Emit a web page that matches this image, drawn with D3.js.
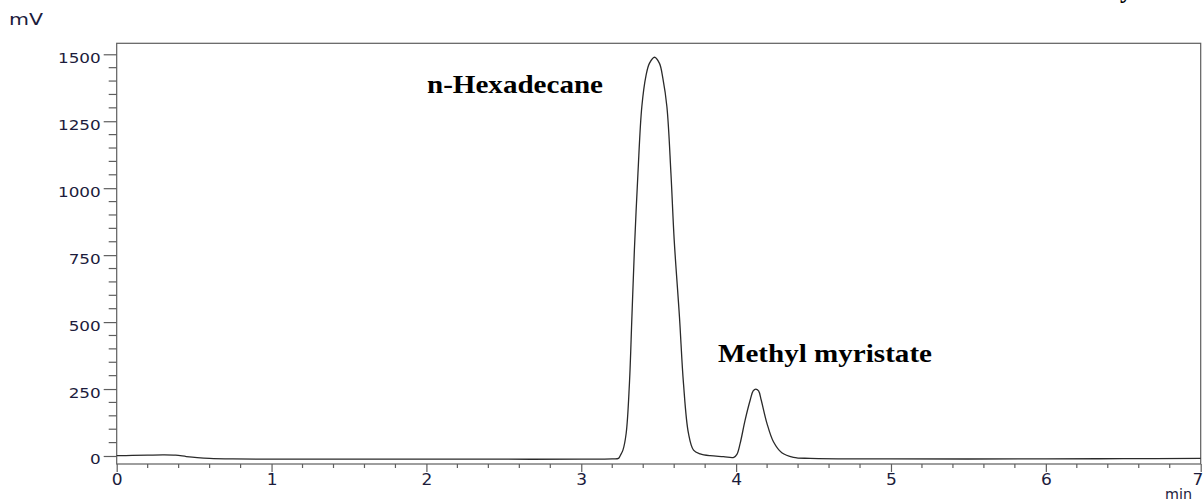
<!DOCTYPE html>
<html>
<head>
<meta charset="utf-8">
<script src="https://cdn.jsdelivr.net/npm/d3@7"></script>
<style>
  html, body { margin: 0; padding: 0; background: #fff; }
  svg { display: block; }
</style>
</head>
<body>
<svg id="chart" width="1204" height="502"></svg>
<script>
// Retention time (min) and detector signal (mV)
const timeMin = [0.00, 0.10, 0.20, 0.30, 0.38, 0.45, 0.52, 0.60, 0.75, 1.00, 1.50, 2.00, 2.50, 3.00, 3.20,
  3.240, 3.252, 3.269, 3.290, 3.311, 3.327, 3.343, 3.366, 3.391, 3.418, 3.440, 3.473, 3.505, 3.527, 3.553,
  3.579, 3.600, 3.634, 3.660, 3.692, 3.725, 3.768, 3.832, 3.918, 3.985, 4.005, 4.026, 4.058, 4.091, 4.110,
  4.127, 4.145, 4.162, 4.199, 4.241, 4.295, 4.370, 4.478, 5.00, 6.00, 6.50, 7.00];
const signalMv = [1, 2, 3, 4, 3, -2, -6, -9, -11, -12, -12, -12, -12, -12, -11,
  -9, 2, 22, 85, 271, 520, 769, 1056, 1304, 1420, 1466, 1489, 1466, 1410, 1304,
  1056, 807, 520, 271, 85, 22, 8, 1, -2, -5, 6, 47, 134, 209, 243,
  250, 243, 209, 122, 53, 12, -5, -9, -11, -11, -10, -9];

const yTicks = [0, 250, 500, 750, 1000, 1250, 1500];
const xTicks = [0, 1, 2, 3, 4, 5, 6, 7];
const peakNames = ["n-Hexadecane", "Methyl myristate"];

const svg = d3.select("#chart");
const plotL = 116.7, plotR = 1200.7, plotT = 43.3, plotB = 464;
const axisColor = "#5e5e5e";
const labelColor = "#1c1c3c";

const x = d3.scaleLinear().domain([0, 7]).range([plotL, plotR]);
const y = d3.scaleLinear().domain([-29.9, 1541]).range([plotB, plotT]);

// Stretch a text horizontally about its own anchor point
function stretch(sel, k) {
  sel.each(function () {
    const t = d3.select(this);
    const xr = +t.attr("x") || 0;
    t.attr("transform", `translate(${xr},0) scale(${k},1) translate(${-xr},0)`);
  });
}

// Frame
svg.append("rect")
  .attr("x", plotL).attr("y", plotT)
  .attr("width", plotR - plotL).attr("height", plotB - plotT)
  .attr("fill", "none").attr("stroke", axisColor).attr("stroke-width", 1.2);

// Y axis: major ticks every 250, minor every 50
const yMinor = d3.range(50, 1501, 50).filter(v => v % 250 !== 0);
const yAxis = d3.axisLeft(y).tickValues(yTicks).tickFormat(d3.format("d"))
  .tickSize(13).tickSizeOuter(0).tickPadding(3);
const gy = svg.append("g").attr("transform", `translate(${plotL},0)`).call(yAxis);
gy.select(".domain").remove();
gy.selectAll(".tick line").attr("stroke", axisColor).attr("stroke-width", 1.2);
gy.selectAll(".tick text")
  .attr("fill", labelColor)
  .attr("font-family", "DejaVu Sans")
  .attr("font-size", 14.5)
  .attr("dy", "0.55em")
  .call(stretch, 1.16);
svg.append("g").selectAll("line").data(yMinor).join("line")
  .attr("x1", plotL - 8).attr("x2", plotL)
  .attr("y1", d => y(d)).attr("y2", d => y(d))
  .attr("stroke", axisColor).attr("stroke-width", 1.2);

// X axis: major ticks every minute, minor every 0.2 min
const xMinor = d3.range(1, 35).map(i => i * 0.2).filter(v => Math.abs(v - Math.round(v)) > 1e-6);
const xAxis = d3.axisBottom(x).tickValues(xTicks).tickFormat(d3.format("d"))
  .tickSize(8).tickSizeOuter(0).tickPadding(2);
const gx = svg.append("g").attr("transform", `translate(0,${plotB})`).call(xAxis);
gx.select(".domain").remove();
gx.selectAll(".tick line").attr("stroke", axisColor).attr("stroke-width", 1.2);
gx.selectAll(".tick text")
  .attr("fill", labelColor)
  .attr("font-family", "DejaVu Sans")
  .attr("font-size", 15.5)
  .call(stretch, 1.1);
// last label sits against the right edge
gx.selectAll(".tick text").filter(d => d === 7)
  .attr("text-anchor", "end").attr("x", 2);
svg.append("g").selectAll("line").data(xMinor).join("line")
  .attr("x1", d => x(d)).attr("x2", d => x(d))
  .attr("y1", plotB).attr("y2", plotB + 4)
  .attr("stroke", axisColor).attr("stroke-width", 1.2);

// Unit labels
svg.append("text").text("mV")
  .attr("x", 9).attr("y", 25)
  .attr("textLength", 34).attr("lengthAdjust", "spacingAndGlyphs")
  .attr("font-family", "DejaVu Sans").attr("font-size", 15).attr("fill", labelColor);
svg.append("text").text("min")
  .attr("x", 1165).attr("y", 499)
  .attr("textLength", 27).attr("lengthAdjust", "spacingAndGlyphs")
  .attr("font-family", "DejaVu Sans").attr("font-size", 14.5).attr("fill", labelColor);

// Chromatogram trace
const pts = timeMin.map((t, i) => [t, signalMv[i]]);
const line = d3.line().x(d => x(d[0])).y(d => y(d[1])).curve(d3.curveCatmullRom.alpha(0.5));
svg.append("path").datum(pts)
  .attr("d", line)
  .attr("fill", "none").attr("stroke", "#2a2a2a").attr("stroke-width", 1.3);

// Peak annotations
const anno = [
  { name: peakNames[0], x: 427, y: 93, len: 176 },
  { name: peakNames[1], x: 718, y: 362, len: 214 }
];
svg.append("g").selectAll("text").data(anno).join("text")
  .text(d => d.name)
  .attr("x", d => d.x).attr("y", d => d.y)
  .attr("textLength", d => d.len).attr("lengthAdjust", "spacingAndGlyphs")
  .attr("font-family", "Liberation Serif").attr("font-weight", "bold")
  .attr("font-size", 25).attr("fill", "#000");

// Descender of a bold letter cut by the top edge
svg.append("text").text("y")
  .attr("x", 1120).attr("y", -2)
  .attr("font-family", "Liberation Serif").attr("font-weight", "bold")
  .attr("font-size", 25).attr("fill", "#000");
</script>
</body>
</html>
